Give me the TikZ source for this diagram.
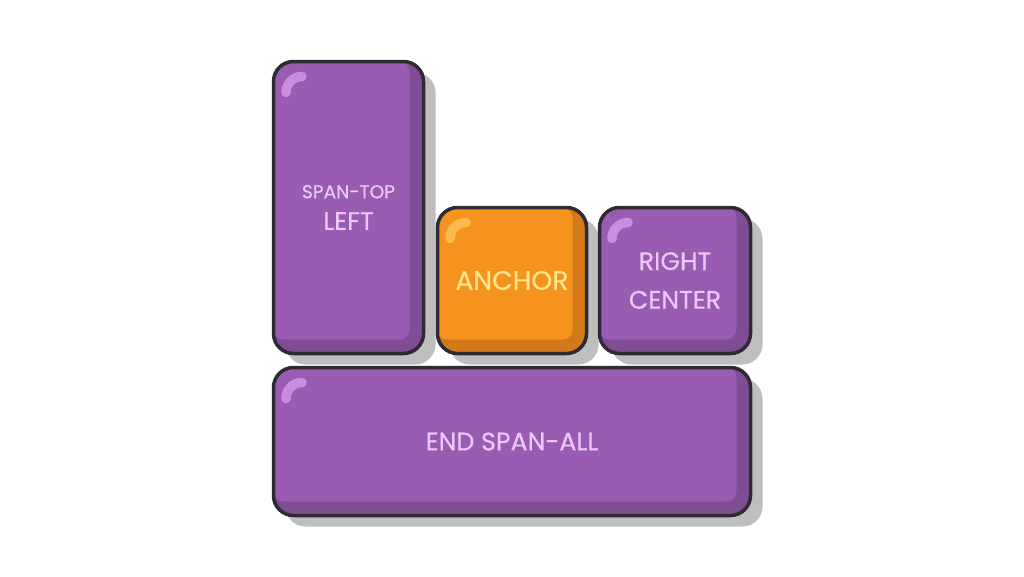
\documentclass[tikz,border=0pt]{standalone}
\usepackage{fontspec}
\setmainfont{Poppins}[FakeBold=0.5]
\usetikzlibrary{shadows}
\definecolor{keypurple}{RGB}{154,91,179}
\definecolor{keypurpledark}{RGB}{127,77,148}
\definecolor{keypurplehl}{RGB}{200,142,222}
\definecolor{keyorange}{RGB}{246,147,30}
\definecolor{keyorangedark}{RGB}{210,122,27}
\definecolor{keyorangehl}{RGB}{253,185,80}
\definecolor{keyoutline}{RGB}{46,41,51}
\definecolor{keyshadow}{RGB}{190,190,190}
\definecolor{purpletext}{RGB}{236,200,248}
\definecolor{orangetext}{RGB}{255,229,140}
\tikzset{
  keycap/.style={draw=keyoutline, line width=0.035cm, rounded corners=0.2cm,
    fill=key#1dark, text=#1text, align=center, inner sep=0pt,
    font=\fontsize{7.2}{9}\selectfont,
    drop shadow={shadow xshift=0.12cm, shadow yshift=-0.11cm, fill=keyshadow, opacity=1},
    path picture={
      \fill[key#1, rounded corners=0.1cm] (path picture bounding box.north west)
        rectangle ([xshift=-0.14cm, yshift=0.14cm]path picture bounding box.south east);
      \draw[key#1hl, line width=0.095cm, line cap=round]
        ([shift={(0.125,-0.31)}]path picture bounding box.north west) arc (180:90:0.16);
    }},
}
\begin{document}
\begin{tikzpicture}
    \useasboundingbox (0,0) rectangle (10.24,5.76);

    \node[keycap=purple, minimum width=1.5cm, minimum height=2.92cm] (spantop) at (3.485, 3.685)
        {{\fontsize{5.3}{6}\selectfont SPAN-TOP}\\LEFT};
    \node[keycap=orange, minimum width=1.49cm, minimum height=1.46cm, font=\fontsize{7.6}{9}\selectfont] (anchor) at (5.12, 2.955) {ANCHOR};
    \node[keycap=purple, minimum width=1.51cm, minimum height=1.46cm] (right) at (6.75, 2.955) {RIGHT\\[2pt]CENTER};
    \node[keycap=purple, minimum width=4.77cm, minimum height=1.48cm] (spanall) at (5.12, 1.345) {END SPAN-ALL};
\end{tikzpicture}
\end{document}
